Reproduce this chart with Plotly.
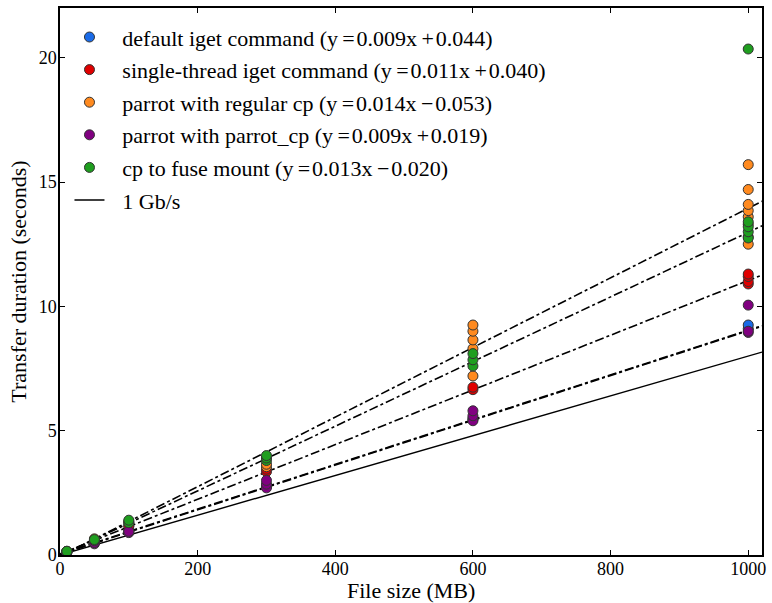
import plotly.graph_objects as go

# ---- data ----
x_default = [10, 10, 50, 50, 100, 100, 300, 300, 600, 600, 1000, 1000]
y_default = [0.13, 0.14, 0.50, 0.52, 0.95, 0.97, 2.75, 2.80, 5.45, 5.50, 9.10, 9.25]

x_single = [10, 50, 50, 100, 100, 300, 300, 600, 600, 1000, 1000, 1000, 1000]
y_single = [0.15, 0.58, 0.60, 1.15, 1.18, 3.35, 3.45, 6.65, 6.75, 10.9, 11.0, 11.2, 11.3]

x_regular = [10, 10, 50, 50, 100, 100, 300, 300, 600, 600, 600, 600, 600,
             1000, 1000, 1000, 1000, 1000, 1000, 1000, 1000]
y_regular = [0.12, 0.14, 0.60, 0.65, 1.30, 1.35, 3.55, 3.65, 7.20, 8.30, 8.65, 9.00, 9.25,
             12.5, 12.8, 13.3, 13.6, 13.85, 14.1, 14.7, 15.7]

x_parrotcp = [10, 50, 50, 100, 100, 300, 300, 300, 600, 600, 600, 1000, 1000, 1000]
y_parrotcp = [0.10, 0.45, 0.50, 0.90, 0.95, 2.70, 2.85, 3.00, 5.40, 5.60, 5.80, 8.95, 9.00, 10.05]

x_fuse = [10, 10, 50, 50, 100, 100, 300, 300, 300, 600, 600, 600, 1000, 1000, 1000, 1000, 1000]
y_fuse = [0.12, 0.15, 0.58, 0.62, 1.30, 1.40, 3.80, 3.90, 4.00, 7.60, 7.85, 8.10,
          12.75, 13.0, 13.2, 13.4, 20.35]

names = ["default iget command", "single-thread iget command", "parrot with regular cp",
         "parrot with parrot_cp", "cp to fuse mount"]
slopes = [0.009, 0.011, 0.014, 0.009, 0.013]
intercepts = [0.044, 0.040, -0.053, 0.019, -0.020]
colors = ["#1a6be8", "#e00000", "#ff8a1f", "#800080", "#1f9e1f"]

fit_x = [0, 1020]
gbps_x = [0, 1020]
gbps_rate = 0.008  # seconds per MB at 1 Gb/s

xs = [x_default, x_single, x_regular, x_parrotcp, x_fuse]
ys = [y_default, y_single, y_regular, y_parrotcp, y_fuse]

SERIF = "Liberation Serif, Times New Roman, Tinos, DejaVu Serif, serif"
PAD = "\u2002\u200a"  # small lead-in gap between legend symbol and text


def sign_str(v):
    return ("+" if v >= 0 else "\u2212") + f"{abs(v):.3f}"


fig = go.Figure()

# regression lines (not in legend)
for m, b in zip(slopes, intercepts):
    fig.add_trace(go.Scatter(
        x=fit_x, y=[m * xv + b for xv in fit_x], mode="lines",
        line=dict(color="black", width=1.6, dash="dashdot"),
        showlegend=False, hoverinfo="skip"))

# 1 Gb/s line
fig.add_trace(go.Scatter(
    x=gbps_x, y=[gbps_rate * xv for xv in gbps_x], mode="lines",
    line=dict(color="black", width=1.4), name=PAD + "1 Gb/s", legendrank=1006,
    legendgroup="g6"))

for i, (n, m, b, c, xv, yv) in enumerate(zip(names, slopes, intercepts, colors, xs, ys)):
    s = sign_str(b)
    label = f"{PAD}{n} (y\u2009=\u200a{m:.3f}x\u2009{s[0]}\u200a{s[1:]})"
    fig.add_trace(go.Scatter(
        x=xv, y=yv, mode="markers", name=label,
        marker=dict(color=c, size=10, line=dict(color="#333333", width=1)),
        legendrank=1000 + i, legendgroup=f"g{i}"))

axis_common = dict(
    showline=True, linecolor="black", linewidth=1.5, mirror="ticks",
    ticks="inside", ticklen=5, tickcolor="black", showgrid=False, zeroline=False,
    tickfont=dict(family=SERIF, size=18, color="black"),
)

fig.update_layout(
    width=772, height=603,
    margin=dict(l=60, r=6, t=8, b=48),
    plot_bgcolor="white", paper_bgcolor="white",
    font=dict(family=SERIF, size=19, color="black"),
    xaxis=dict(range=[0, 1020], tickvals=[0, 200, 400, 600, 800, 1000],
               ticklabelstandoff=-3, ticklabeloverflow="allow",
               **axis_common),
    yaxis=dict(range=[0, 22], tickvals=[0, 5, 10, 15, 20],
               ticklabelstandoff=-2,
               title=dict(text="Transfer duration (seconds)", standoff=6,
                          font=dict(family=SERIF, size=22)),
               **axis_common),
    legend=dict(x=0.0135, y=0.985, xanchor="left", yanchor="top",
                bgcolor="rgba(255,255,255,0)", borderwidth=0,
                font=dict(family=SERIF, size=22),
                itemwidth=30, tracegroupgap=1),
    annotations=[dict(text="File size (MB)", xref="paper", yref="paper",
                      x=0.5, y=0, yshift=-35, xanchor="center", yanchor="middle",
                      showarrow=False, font=dict(family=SERIF, size=22))],
)

fig.write_html("out.html", config={"displayModeBar": False},
               post_script="document.body.style.margin='0';document.body.style.overflow='hidden';")
